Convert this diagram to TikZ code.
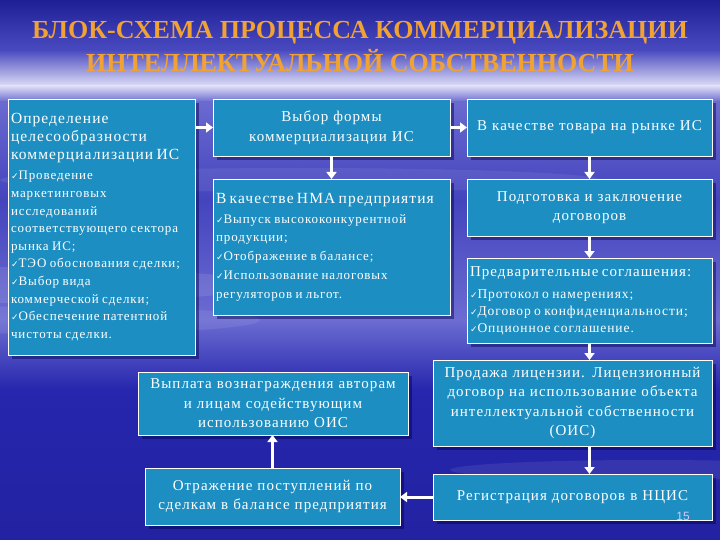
\documentclass[tikz,border=0pt]{standalone}
\usepackage{fontspec}
\setmainfont[LetterSpace=7]{Liberation Serif}
\newfontfamily\titlefont{Liberation Serif}
\newfontfamily\dejavu{DejaVu Sans}
\newfontfamily\arialf{Liberation Sans}
\usetikzlibrary{arrows.meta,shadows,positioning}
\definecolor{boxc}{HTML}{1D8EC2}
\definecolor{titlec}{HTML}{F0A234}
\definecolor{bgA}{HTML}{1E1E96}
\definecolor{bgB}{HTML}{4A4AC0}
\definecolor{bgC}{HTML}{DCDCF6}
\definecolor{bgD}{HTML}{6A6AD0}
\definecolor{bgE}{HTML}{4444BE}
\definecolor{bgF}{HTML}{6C6CD2}
\definecolor{bgG}{HTML}{2626AE}
\definecolor{bgH}{HTML}{2222A2}
\newcommand{\ck}{{\dejavu\fontsize{9}{10}\selectfont ✓}}
\tikzset{
  box/.style={draw=white, line width=0.9pt, fill=boxc, text=white,
    inner sep=3pt, outer sep=0pt, anchor=north west,
    drop shadow={shadow xshift=4pt, shadow yshift=-4pt, opacity=0.45, fill=black!70!blue}},
  big/.style={font=\fontsize{15}{19.5}\selectfont},
  arr/.style={draw=white, line width=3pt, -{Triangle[width=10pt,length=7pt]}},
  ttl/.style={font=\titlefont\fontsize{26}{28}\bfseries\selectfont, text=titlec},
}
\begin{document}
\begin{tikzpicture}[x=1pt,y=-1pt]
\useasboundingbox (0,0) rectangle (720,540);
% background
\shade[top color=bgA, bottom color=bgB] (0,0) rectangle (720,50);
\shade[top color=bgB, bottom color=bgC] (0,50) rectangle (720,86);
\shade[top color=bgC, bottom color=bgD] (0,86) rectangle (720,102);
\shade[top color=bgD, bottom color=bgE] (0,102) rectangle (720,200);
\shade[top color=bgE, bottom color=bgF] (0,200) rectangle (720,320);
\shade[top color=bgF, bottom color=bgG] (0,320) rectangle (720,390);
\shade[top color=bgG, bottom color=bgH] (0,390) rectangle (720,540);
\fill[white, opacity=0.10] (0,285) ellipse (260 and 18);
\fill[white, opacity=0.08] (60,320) ellipse (200 and 14);
\fill[white, opacity=0.08] (650,470) ellipse (200 and 10);
\fill[white, opacity=0.07] (300,180) ellipse (300 and 12);
% title
\node[ttl] (t1) at (360,33) {БЛОК-СХЕМА ПРОЦЕССА КОММЕРЦИАЛИЗАЦИИ};
\node[ttl] (t2) at (360,61) {ИНТЕЛЛЕКТУАЛЬНОЙ СОБСТВЕННОСТИ};
% boxes
\node[box, align=left, minimum width=187, minimum height=256, text width=181] (b1) at (8,99)
 {{\fontsize{15.5}{18}\selectfont Определение\\ целесообразности\\ коммерциализации ИС\par}
  \vspace{3pt}
  {\fontsize{13}{17.6}\selectfont \ck Проведение\\ маркетинговых\\ исследований\\ соответствующего сектора\\ рынка ИС;\\
  \ck ТЭО обоснования сделки;\\ \ck Выбор вида\\ коммерческой сделки;\\ \ck Обеспечение патентной\\ чистоты сделки.\par}};
\node[box, big, align=center, minimum width=237, minimum height=57, text width=231] (b2) at (213,99)
 {Выбор формы\\ коммерциализации ИС};
\node[box, big, align=center, minimum width=245, minimum height=57, text width=239] (b3) at (467,99)
 {В качестве товара на рынке ИС};
\node[box, align=left, minimum width=237, minimum height=136, text width=231] (b4) at (213,179)
 {{\fontsize{15.5}{20}\selectfont В качестве НМА предприятия\par}
  \vspace{1pt}
  {\fontsize{13}{18.8}\selectfont \ck Выпуск высококонкурентной\\ продукции;\\ \ck Отображение в балансе;\\ \ck Использование налоговых\\ регуляторов и льгот.\par}};
\node[box, big, align=center, minimum width=245, minimum height=57, text width=239] (b5) at (467,179)
 {Подготовка и заключение\\ договоров};
\node[box, align=left, minimum width=245, minimum height=85, text width=239] (b6) at (467,258)
 {{\fontsize{15}{20}\selectfont Предварительные соглашения:\par}
  \vspace{5pt}
  {\fontsize{13.5}{17}\selectfont \ck Протокол о намерениях;\\ \ck Договор о конфиденциальности;\\ \ck Опционное соглашение.\par}};
\node[box, big, align=center, minimum width=270, minimum height=63, text width=264] (b7) at (138,372)
 {Выплата вознаграждения авторам\\ и лицам содействующим\\ использованию ОИС};
\node[box, big, align=center, minimum width=255, minimum height=57, text width=249] (b8) at (145,468)
 {Отражение поступлений по\\ сделкам в балансе предприятия};
\node[box, big, align=center, minimum width=279, minimum height=86, text width=273] (b9) at (433,360)
 {Продажа лицензии. Лицензионный\\ договор на использование объекта\\ интеллектуальной собственности\\ (ОИС)};
\node[box, big, align=center, minimum width=279, minimum height=46, text width=273] (b10) at (433,474)
 {Регистрация договоров в НЦИС};
\node[font=\arialf\fontsize{12}{12}\selectfont, text=white!80!blue] (pg) at (683,516) {15};
% connectors
\draw[arr] (b1.east |- b2.west) -- (b2.west);
\draw[arr] (b2.east) -- (b3.west);
\draw[arr] (b2.south) -- (b4.north);
\draw[arr] (b3.south) -- (b5.north);
\draw[arr] (b5.south) -- (b6.south |- b6.north);
\draw[arr] (b6.south) -- (b6.south |- b9.north);
\draw[arr] (b6.south |- b9.south) -- (b6.south |- b10.north);
\draw[arr] (b10.west) -- (b10.west -| b8.east);
\draw[arr] (b8.north) -- (b8.north |- b7.south);
\end{tikzpicture}
\end{document}
